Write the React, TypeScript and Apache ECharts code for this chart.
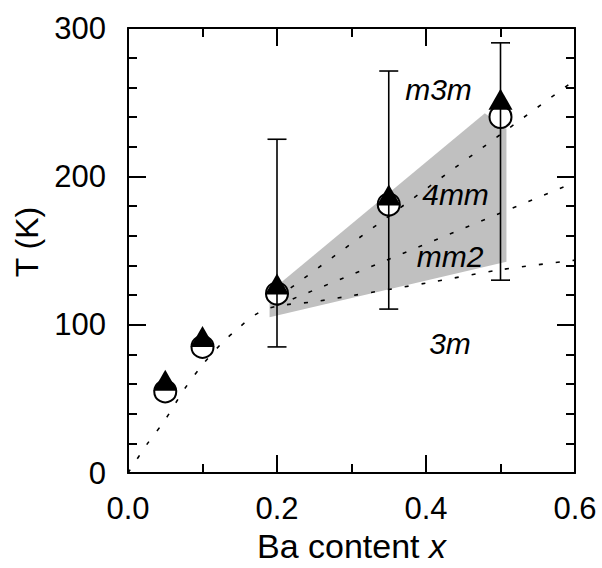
import React, { useEffect, useRef } from "react";
import * as echarts from "echarts";

// ---- data ----
const xTickLabels = ["0.0", "0.2", "0.4", "0.6"];
const yTickLabels = ["0", "100", "200", "300"];
const baContent = [0.05, 0.1, 0.2, 0.35, 0.5];
const tTriangle = [62.5, 92, 127.5, 187.5, 252];
const tCircle = [55, 85, 121, 181, 240];
const errX = [0.2, 0.35, 0.5];
const errLow = [85, 110.5, 130];
const errHigh = [225, 271, 290];
const shadedRegion = [
  [0.19, 105],
  [0.19, 122],
  [0.479, 242.5],
  [0.508, 232],
  [0.508, 142.5],
];
const boundary3m = [
  [0, 0], [0.025, 19], [0.05, 36], [0.075, 56], [0.1, 73], [0.125, 87],
  [0.15, 98.5], [0.175, 108], [0.2, 112.5], [0.25, 115.5], [0.3, 119.5],
  [0.4, 128], [0.5, 137], [0.6, 143.5],
];
const boundaryMm2 = [[0.2, 113], [0.6, 196]];
const boundary4mm = [[0.2, 118], [0.6, 265]];
const phaseLabels = ["m3m", "4mm", "mm2", "3m"];
const phaseX = [0.4174, 0.4403, 0.4329, 0.4329];
const phaseT = [258.2, 187.4, 145.8, 87.2];

const FONT = "'Liberation Sans', Arial, Helvetica, sans-serif";

export default function App() {
  const ref = useRef<HTMLDivElement>(null);

  useEffect(() => {
    if (!ref.current) return;
    const chart = echarts.init(ref.current, undefined, { renderer: "svg" });

    const axisCommon = (isX: boolean) => ({
      type: "value" as const,
      axisLine: { show: true, onZero: false, lineStyle: { color: "#000", width: 2 } },
      axisTick: { show: true, inside: true, length: 18, lineStyle: { color: "#000", width: 2 } },
      minorTick: {
        show: true,
        splitNumber: isX ? 2 : 5,
        length: 9,
        lineStyle: { color: "#000", width: 2 },
      },
      splitLine: { show: false },
      minorSplitLine: { show: false },
    });

    const dashed = { color: "#000", width: 1.6, type: [4, 13] as number[] };

    chart.setOption({
      animation: false,
      backgroundColor: "#fff",
      grid: { left: 128, right: 27, top: 28, bottom: 95, containLabel: false },
      xAxis: [
        {
          ...axisCommon(true),
          min: 0,
          max: 0.6,
          interval: 0.2,
          position: "bottom",
          axisLabel: {
            show: true,
            margin: 20,
            fontSize: 31,
            color: "#000",
            fontFamily: FONT,
            showMinLabel: true,
            showMaxLabel: true,
            formatter: (v: number) => xTickLabels[Math.round(v / 0.2)] ?? "",
          },
          name: "Ba content {i|x}",
          nameLocation: "middle",
          nameGap: 56,
          nameTextStyle: {
            fontSize: 34,
            color: "#000",
            fontFamily: FONT,
            rich: { i: { fontSize: 34, fontStyle: "italic", fontFamily: FONT, color: "#000" } },
          },
        },
        {
          ...axisCommon(true),
          min: 0,
          max: 0.6,
          interval: 0.2,
          position: "top",
          axisLabel: { show: false },
        },
      ],
      yAxis: [
        {
          ...axisCommon(false),
          min: 0,
          max: 300,
          interval: 100,
          position: "left",
          axisLabel: {
            show: true,
            margin: 22,
            fontSize: 31,
            color: "#000",
            fontFamily: FONT,
            showMinLabel: true,
            showMaxLabel: true,
            formatter: (v: number) => yTickLabels[Math.round(v / 100)] ?? "",
          },
          name: "T (K)",
          nameLocation: "middle",
          nameGap: 82,
          nameTextStyle: { fontSize: 32, color: "#000", fontFamily: FONT, padding: [0, 0, 0, 17] },
        },
        {
          ...axisCommon(false),
          min: 0,
          max: 300,
          interval: 100,
          position: "right",
          axisLabel: { show: false },
        },
      ],
      series: [
        {
          type: "custom",
          z: 1,
          silent: true,
          data: [shadedRegion[0]],
          renderItem: (_p: any, api: any) => ({
            type: "polygon",
            shape: { points: shadedRegion.map((pt) => api.coord(pt)) },
            style: { fill: "#c0c0c0" },
          }),
        },
        {
          type: "line",
          z: 2,
          data: boundary3m,
          smooth: 0.3,
          symbol: "none",
          lineStyle: dashed,
        },
        {
          type: "line",
          z: 2,
          data: boundaryMm2,
          symbol: "none",
          lineStyle: dashed,
        },
        {
          type: "line",
          z: 2,
          data: boundary4mm,
          symbol: "none",
          lineStyle: dashed,
        },
        {
          type: "scatter",
          z: 3,
          data: baContent.map((x, i) => [x, tCircle[i]]),
          symbol: "circle",
          symbolSize: 22,
          itemStyle: { color: "#fff", borderColor: "#000", borderWidth: 2, opacity: 1 },
        },
        {
          type: "custom",
          z: 4,
          data: errX.map((x, i) => [x, errLow[i], errHigh[i]]),
          encode: { x: 0, y: [1, 2] },
          renderItem: (_p: any, api: any) => {
            const x = api.value(0);
            const lo = api.coord([x, api.value(1)]);
            const hi = api.coord([x, api.value(2)]);
            const hw = 9.5;
            const style = { stroke: "#000", lineWidth: 1.6 };
            return {
              type: "group",
              children: [
                { type: "line", shape: { x1: lo[0], y1: lo[1], x2: hi[0], y2: hi[1] }, style },
                { type: "line", shape: { x1: lo[0] - hw, y1: lo[1], x2: lo[0] + hw, y2: lo[1] }, style },
                { type: "line", shape: { x1: hi[0] - hw, y1: hi[1], x2: hi[0] + hw, y2: hi[1] }, style },
              ],
            };
          },
        },
        {
          type: "scatter",
          z: 5,
          data: baContent.map((x, i) => [x, tTriangle[i]]),
          symbol: "triangle",
          symbolSize: [24, 21],
          itemStyle: { color: "#000", opacity: 1 },
        },
        {
          type: "scatter",
          z: 6,
          silent: true,
          data: phaseLabels.map((name, i) => ({ name, value: [phaseX[i], phaseT[i]] })),
          symbolSize: 1,
          itemStyle: { color: "rgba(0,0,0,0)", opacity: 1 },
          label: {
            show: true,
            position: [0, 0],
            align: "center",
            verticalAlign: "middle",
            formatter: (p: any) => p.name,
            fontSize: 30,
            fontStyle: "italic",
            fontFamily: FONT,
            color: "#000",
            opacity: 1,
            textBorderWidth: 0,
          },
        },
      ],
    });

    return () => chart.dispose();
  }, []);

  return (
    <div
      ref={ref}
      style={{ position: "absolute", left: 0, top: 0, width: 602, height: 568, background: "#fff" }}
    />
  );
}
